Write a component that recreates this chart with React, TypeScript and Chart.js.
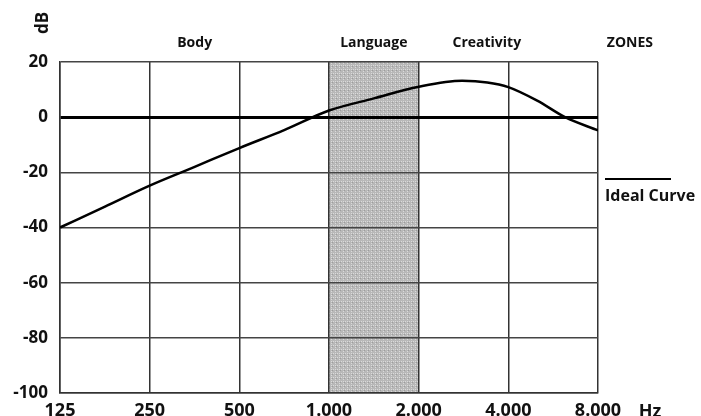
import { useEffect, useRef } from "react";
import { Chart, registerables } from "chart.js";

Chart.register(...registerables);

const frequencies = [125, 177, 250, 354, 500, 707, 1000, 1414, 2000, 2800, 3400, 4000, 5000, 6200, 8000];
const idealCurve = [-40, -32.4, -24.8, -18, -11.2, -4.7, 2.4, 6.8, 11, 13.2, 12.6, 10.9, 6, 0, -4.8];
const xTickValues = [125, 250, 500, 1000, 2000, 4000, 8000];
const xTickLabels = ["125", "250", "500", "1.000", "2.000", "4.000", "8.000"];
const yTickValues = [-100, -80, -60, -40, -20, 0, 20];
const zoneNames = ["Body", "Language", "Creativity", "ZONES"];
const zoneCenters = [354, 1414, 3386, 10240];
const languageBand = [1000, 2000];
const seriesName = "Ideal Curve";
const xUnit = "Hz";
const yUnit = "dB";

const FONT = "'Open Sans', 'Noto Sans', sans-serif";

function makePattern(ctx: CanvasRenderingContext2D) {
  const c = document.createElement("canvas");
  c.width = 4;
  c.height = 4;
  const p = c.getContext("2d")!;
  p.fillStyle = "#b8b8b8";
  p.fillRect(0, 0, 4, 4);
  p.fillStyle = "#dadada";
  p.fillRect(1, 1, 1, 1);
  p.fillRect(3, 3, 1, 1);
  p.fillRect(3, 1, 1, 1);
  p.fillStyle = "#9c9c9c";
  p.fillRect(0, 2, 1, 1);
  return ctx.createPattern(c, "repeat");
}

const decorPlugin = {
  id: "decor",
  beforeDraw(chart: any) {
    const { ctx, chartArea, scales } = chart;
    const xs = scales.x;
    const x0 = xs.getPixelForValue(languageBand[0]);
    const x1 = xs.getPixelForValue(languageBand[1]);
    ctx.save();
    ctx.fillStyle = makePattern(ctx) || "#bbbbbb";
    ctx.fillRect(x0, chartArea.top, x1 - x0, chartArea.bottom - chartArea.top);
    ctx.restore();
  },
  afterDraw(chart: any) {
    const { ctx, chartArea, scales } = chart;
    const xs = scales.x;
    ctx.save();
    ctx.fillStyle = "#111";
    ctx.font = `bold 14px ${FONT}`;
    ctx.textAlign = "center";
    ctx.textBaseline = "alphabetic";
    zoneNames.forEach((n, i) => {
      ctx.fillText(n, xs.getPixelForValue(zoneCenters[i]), 47);
    });
    ctx.save();
    ctx.font = `bold 17px ${FONT}`;
    ctx.translate(48, 23);
    ctx.rotate(-Math.PI / 2);
    ctx.textAlign = "center";
    ctx.fillText(yUnit, 0, 0);
    ctx.restore();
    ctx.font = `bold 18px ${FONT}`;
    ctx.textAlign = "center";
    ctx.textBaseline = "alphabetic";
    ctx.fillText(xUnit, chartArea.right + 52, 417);
    ctx.strokeStyle = "#000";
    ctx.lineWidth = 2;
    ctx.beginPath();
    ctx.moveTo(chartArea.right + 7, 179);
    ctx.lineTo(chartArea.right + 73, 179);
    ctx.stroke();
    ctx.font = `bold 16px ${FONT}`;
    ctx.textAlign = "left";
    ctx.fillText(seriesName, chartArea.right + 7, 201);
    ctx.restore();
  },
};

export default function App() {
  const ref = useRef<HTMLCanvasElement>(null);
  useEffect(() => {
    const canvas = ref.current!;
    const chart = new Chart(canvas, {
      type: "line",
      data: {
        datasets: [
          {
            label: seriesName,
            data: frequencies.map((f, i) => ({ x: f, y: idealCurve[i] })),
            borderColor: "#000",
            borderWidth: 2.5,
            pointRadius: 0,
            cubicInterpolationMode: "monotone",
            fill: false,
          },
        ],
      },
      options: {
        animation: false,
        responsive: false,
        devicePixelRatio: 1,
        layout: { padding: { top: 62, right: 103, left: 0, bottom: 0 } },
        plugins: { legend: { display: false }, tooltip: { enabled: false } },
        scales: {
          x: {
            type: "logarithmic",
            min: 125,
            max: 8000,
            afterBuildTicks: (s: any) => {
              s.ticks = xTickValues.map((v) => ({ value: v }));
            },
            afterFit: (s: any) => {
              s.height = 23;
            },
            ticks: {
              autoSkip: false,
              maxRotation: 0,
              padding: 7,
              color: "#111",
              font: { family: FONT, size: 18, weight: "bold" },
              callback: (_v: any, i: number) => xTickLabels[i],
            },
            grid: { color: "#333", lineWidth: 1.5, drawTicks: false },
            border: { display: true, color: "#333", width: 1.5 },
          },
          y: {
            type: "linear",
            min: -100,
            max: 20,
            afterBuildTicks: (s: any) => {
              s.ticks = yTickValues.map((v) => ({ value: v }));
            },
            afterFit: (s: any) => {
              s.width = 60;
            },
            ticks: {
              padding: 12,
              color: "#111",
              font: { family: FONT, size: 17, weight: "bold" },
            },
            grid: {
              drawTicks: false,
              color: (c: any) => (c.tick && c.tick.value === 0 ? "#000" : "#444"),
              lineWidth: (c: any) => (c.tick && c.tick.value === 0 ? 3 : 1.5),
            },
            border: { display: true, color: "#333", width: 1.5 },
          },
        },
      } as any,
      plugins: [decorPlugin],
    });
    return () => chart.destroy();
  }, []);
  return (
    <div style={{ position: "fixed", left: 0, top: 0, width: 701, height: 416, background: "#fff" }}>
      <canvas ref={ref} width={701} height={416} />
    </div>
  );
}
